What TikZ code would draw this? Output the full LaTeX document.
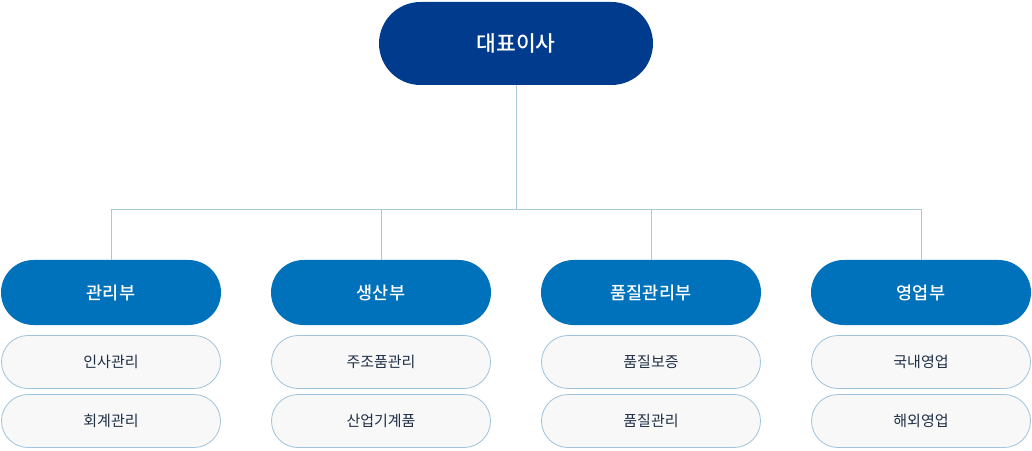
\documentclass[tikz,border=0pt]{standalone}
\usepackage{fontspec}
\setmainfont{Noto Sans CJK KR}
\newfontfamily\krmed{Noto Sans CJK KR Medium}
\usepackage{tikz}
\usetikzlibrary{positioning}

\definecolor{ceoblue}{HTML}{003B8E}
\definecolor{deptblue}{HTML}{0071BB}
\definecolor{subfill}{HTML}{F8F8F8}
\definecolor{subline}{HTML}{9EC3DB}
\definecolor{linkline}{HTML}{A8C8DC}
\definecolor{subtext}{HTML}{1F2F45}

\begin{document}
\begin{tikzpicture}[x=1pt,y=1pt,
    ceobox/.style={fill=ceoblue, text=white, minimum width=274pt, minimum height=83pt,
      rounded corners=41.5pt, inner sep=0pt, font=\krmed\fontsize{21.5}{26}\selectfont},
    deptbox/.style={fill=deptblue, text=white, minimum width=220pt, minimum height=65pt,
      rounded corners=32.5pt, inner sep=0pt, font=\krmed\fontsize{17.5}{21}\selectfont},
    subbox/.style={fill=subfill, draw=subline, line width=0.8pt, text=subtext,
      minimum width=219pt, minimum height=53pt, rounded corners=26.5pt, inner sep=0pt,
      font=\fontsize{15}{18}\selectfont},
    link/.style={draw=linkline, line width=0.8pt}]
            \useasboundingbox (0,0) rectangle (1032,450);
            % top
            \node[ceobox] (ceo) at (516,406.5) {대표이사};
            \coordinate (hub) at (516,241);
            % departments
            \node[deptbox] (d1) at (111,157.5) {관리부};
            \node[deptbox] (d2) at (381,157.5) {생산부};
            \node[deptbox] (d3) at (651,157.5) {품질관리부};
            \node[deptbox] (d4) at (921,157.5) {영업부};
            % teams
            \node[subbox] (d1a) at (111,88) {인사관리};
            \node[subbox] (d1b) at (111,29) {회계관리};
            \node[subbox] (d2a) at (381,88) {주조품관리};
            \node[subbox] (d2b) at (381,29) {산업기계품};
            \node[subbox] (d3a) at (651,88) {품질보증};
            \node[subbox] (d3b) at (651,29) {품질관리};
            \node[subbox] (d4a) at (921,88) {국내영업};
            \node[subbox] (d4b) at (921,29) {해외영업};
            % links
            \draw[link] (ceo.south) -- (hub);
            \draw[link] (hub) -| (d1.north);
            \draw[link] (hub) -| (d2.north);
            \draw[link] (hub) -| (d3.north);
            \draw[link] (hub) -| (d4.north);
        \end{tikzpicture}
\end{document}
